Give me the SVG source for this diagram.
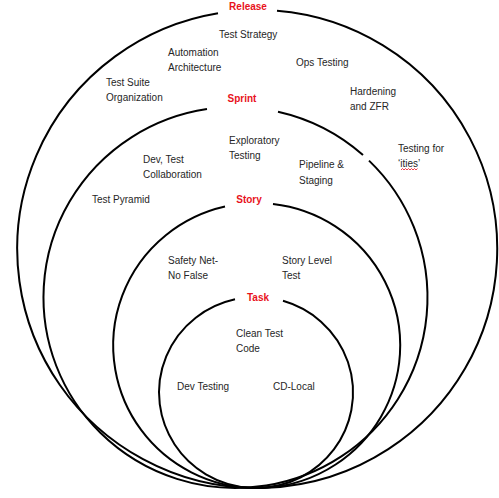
<svg xmlns="http://www.w3.org/2000/svg" width="499" height="498" viewBox="0 0 499 498">
<style>
.ring{fill:none;stroke:#000;stroke-width:2}
.lbl{font-family:"Liberation Sans",Arial,sans-serif;font-size:10px;font-weight:bold;fill:#e8121c;text-anchor:middle}
.t{font-family:"Liberation Sans",Arial,sans-serif;font-size:10px;fill:#262626}
</style>
<rect width="499" height="498" fill="#fff"/>
<g id="release">
<path class="ring" d="M218,13.2 A240 239 0 1 0 277,10.8"/>
<text class="lbl" x="248" y="10">Release</text>
<text class="t" x="219" y="38">Test Strategy</text>
<text class="t" x="168" y="56">Automation</text>
<text class="t" x="168" y="71">Architecture</text>
<text class="t" x="296" y="66">Ops Testing</text>
<text class="t" x="350" y="95">Hardening</text>
<text class="t" x="350" y="110">and ZFR</text>
<text class="t" x="106" y="86">Test Suite</text>
<text class="t" x="106" y="101">Organization</text>
<text class="t" x="398" y="152">Testing for</text>
<text class="t" x="398" y="167">‘ities’</text>
<path d="M401,170 l1.5,-1.5 1.5,1.5 1.5,-1.5 1.5,1.5 1.5,-1.5 1.5,1.5 1.5,-1.5 1.5,1.5 1.5,-1.5 1.5,1.5 1.5,-1.5" fill="none" stroke="#e8121c" stroke-width="0.8"/>
</g>
<g id="sprint">
<path class="ring" d="M278,111.7 A192 190.5 0 0 1 363,155 M369,160.6 A192 190.5 0 1 1 207,109.1"/>
<text class="lbl" x="242" y="102">Sprint</text>
<text class="t" x="229" y="144">Exploratory</text>
<text class="t" x="229" y="159">Testing</text>
<text class="t" x="143" y="163">Dev, Test</text>
<text class="t" x="143" y="178">Collaboration</text>
<text class="t" x="299" y="168">Pipeline &amp;</text>
<text class="t" x="299" y="184">Staging</text>
<text class="t" x="92" y="203">Test Pyramid</text>
</g>
<g id="story">
<path class="ring" d="M273,203.9 A143.5 142.5 0 1 1 225,206.5"/>
<text class="lbl" x="249" y="203">Story</text>
<text class="t" x="168" y="264">Safety Net-</text>
<text class="t" x="168" y="279">No False</text>
<text class="t" x="282" y="264">Story Level</text>
<text class="t" x="282" y="279">Test</text>
</g>
<g id="task">
<path class="ring" d="M283,300.8 A97 95.5 0 1 1 235,299.3"/>
<text class="lbl" x="258" y="301">Task</text>
<text class="t" x="236" y="337">Clean Test</text>
<text class="t" x="236" y="352">Code</text>
<text class="t" x="177" y="390">Dev Testing</text>
<text class="t" x="273" y="390">CD-Local</text>
</g>
</svg>
